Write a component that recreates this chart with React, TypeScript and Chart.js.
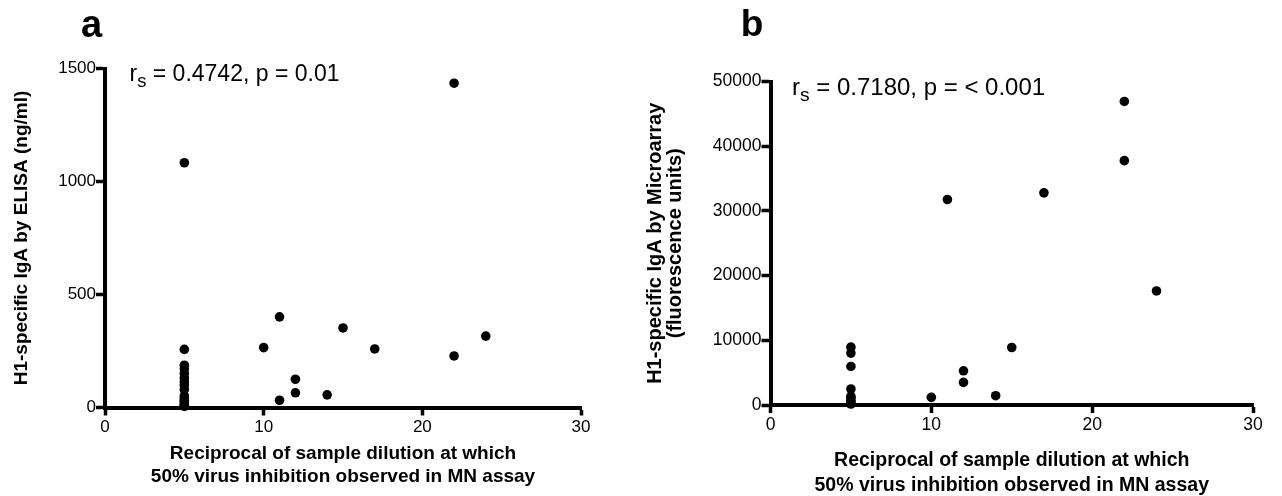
import React, { useEffect, useRef } from "react";
import { Chart, registerables } from "chart.js";

Chart.register(...registerables);

// ---------- data ----------
const xTicks = [0, 10, 20, 30];

// Panel a: MN titre vs ELISA IgA (ng/ml)
const elisaX = [5, 5, 5, 5, 5, 5, 5, 5, 5, 5, 5, 5, 5, 5, 5, 5, 10, 11, 11, 12, 12, 14, 15, 17, 22, 22, 24];
const elisaY = [1083, 257, 187, 170, 150, 130, 113, 99, 80, 51, 40, 30, 25, 15, 10, 5, 265, 401, 32, 125, 65, 56, 352, 259, 1435, 228, 316];
const elisaYTicks = [0, 500, 1000, 1500];

// Panel b: MN titre vs Microarray IgA (fluorescence units)
const arrayX = [5, 5, 5, 5, 5, 5, 5, 5, 5, 10, 11, 12, 12, 14, 15, 17, 22, 22, 24];
const arrayY = [8940, 8020, 5960, 2470, 1330, 1080, 710, 400, 150, 1180, 31760, 5290, 3490, 1440, 8890, 32790, 46920, 37770, 17630];
const arrayYTicks = [0, 10000, 20000, 30000, 40000, 50000];

const xTitle = ["Reciprocal of sample dilution at which", "50% virus inhibition observed in MN assay"];
const elisaYTitle = "H1-specific IgA by ELISA (ng/ml)";
const arrayYTitle = ["H1-specific IgA by Microarray", "(fluorescence units)"];

const FONT = "'Liberation Sans', Arial, Helvetica, sans-serif";

type PanelProps = {
  xs: number[];
  ys: number[];
  yTicks: number[];
  yTitle: string | string[];
  width: number;
  height: number;
  top: number;
  right: number;
  yWidth: number;
  xHeight: number;
  tickSize: number;
  xTitleSize: number;
  xTitleLH: number;
  xTitlePB: number;
  yTitleSize: number;
  yTitleLH: number;
  yTitlePT: number;
};

function Panel(p: PanelProps) {
  const ref = useRef<HTMLCanvasElement | null>(null);
  useEffect(() => {
    if (!ref.current) return;
    const black = "#000";
    const chart = new Chart(ref.current, {
      type: "scatter",
      data: {
        datasets: [
          {
            data: p.xs.map((x, i) => ({ x, y: p.ys[i] })),
            backgroundColor: black,
            borderColor: black,
            borderWidth: 0,
            pointRadius: 4.8,
            pointHoverRadius: 4.8,
            clip: false as any,
          },
        ],
      },
      options: {
        responsive: false,
        animation: false,
        events: [],
        layout: { padding: { top: p.top, right: p.right, left: 0, bottom: 0 } },
        plugins: { legend: { display: false }, tooltip: { enabled: false } },
        scales: {
          x: {
            type: "linear",
            min: xTicks[0],
            max: xTicks[xTicks.length - 1],
            afterBuildTicks: (s: any) => {
              s.ticks = xTicks.map((v) => ({ value: v }));
            },
            ticks: {
              color: black,
              font: { family: FONT, size: p.tickSize },
              padding: 2,
              maxRotation: 0,
              callback: (v: any) => String(v),
            },
            grid: { display: true, drawOnChartArea: false, tickLength: 8, tickWidth: 3.5, tickColor: black },
            border: { display: true, color: black, width: 4 },
            title: {
              display: true,
              text: xTitle,
              color: black,
              font: { family: FONT, size: p.xTitleSize, weight: "bold", lineHeight: p.xTitleLH },
              padding: { top: 0, bottom: p.xTitlePB },
            },
            afterFit: (s: any) => {
              s.height = p.xHeight;
            },
          },
          y: {
            type: "linear",
            min: p.yTicks[0],
            max: p.yTicks[p.yTicks.length - 1],
            afterBuildTicks: (s: any) => {
              s.ticks = p.yTicks.map((v) => ({ value: v }));
            },
            ticks: {
              color: black,
              font: { family: FONT, size: p.tickSize },
              padding: 0,
              callback: (v: any) => String(v),
            },
            grid: { display: true, drawOnChartArea: false, tickLength: 9, tickWidth: 3.5, tickColor: black },
            border: { display: true, color: black, width: 4 },
            title: {
              display: true,
              text: p.yTitle,
              color: black,
              font: { family: FONT, size: p.yTitleSize, weight: "bold", lineHeight: p.yTitleLH },
              padding: { top: p.yTitlePT, bottom: 0 },
            },
            afterFit: (s: any) => {
              s.width = p.yWidth;
            },
          },
        },
      } as any,
    });
    return () => chart.destroy();
  }, []);
  return (
    <canvas
      ref={ref}
      width={p.width}
      height={p.height}
      style={{ width: p.width, height: p.height, display: "block" }}
    />
  );
}

const textBase: React.CSSProperties = {
  position: "absolute",
  fontFamily: FONT,
  lineHeight: 1,
  whiteSpace: "nowrap",
  color: "#000",
};

function Stat({ left, top, size, rest }: { left: number; top: number; size: number; rest: string }) {
  return (
    <div style={{ ...textBase, left, top, fontSize: size }}>
      r<sub style={{ fontSize: "0.8em", verticalAlign: "-0.32em", lineHeight: 0 }}>s</sub>
      {rest}
    </div>
  );
}

export default function App() {
  return (
    <div style={{ position: "absolute", left: 0, top: 0, width: 1282, height: 496, background: "#fff", overflow: "hidden" }}>
      <div style={{ position: "absolute", left: 0, top: 0 }}>
        <Panel
          xs={elisaX}
          ys={elisaY}
          yTicks={elisaYTicks}
          yTitle={elisaYTitle}
          width={640}
          height={496}
          top={68.5}
          right={59}
          yWidth={105}
          xHeight={88.5}
          tickSize={17}
          xTitleSize={19}
          xTitleLH={23.5 / 19}
          xTitlePB={7}
          yTitleSize={19}
          yTitleLH={1.2}
          yTitlePT={10}
        />
      </div>
      <div style={{ position: "absolute", left: 640, top: 0 }}>
        <Panel
          xs={arrayX}
          ys={arrayY}
          yTicks={arrayYTicks}
          yTitle={arrayYTitle}
          width={642}
          height={496}
          top={81.5}
          right={29}
          yWidth={130.5}
          xHeight={91}
          tickSize={17.5}
          xTitleSize={19.5}
          xTitleLH={25 / 19.5}
          xTitlePB={-2.5}
          yTitleSize={20}
          yTitleLH={20 / 20}
          yTitlePT={5}
        />
      </div>
      <div style={{ ...textBase, left: 81, top: 4.5, fontSize: 38, fontWeight: "bold" }}>a</div>
      <div style={{ ...textBase, left: 740.7, top: 5.4, fontSize: 37, fontWeight: "bold" }}>b</div>
      <Stat left={129.5} top={62.3} size={23} rest=" = 0.4742, p = 0.01" />
      <Stat left={792} top={74.7} size={24} rest=" = 0.7180, p = < 0.001" />
    </div>
  );
}
